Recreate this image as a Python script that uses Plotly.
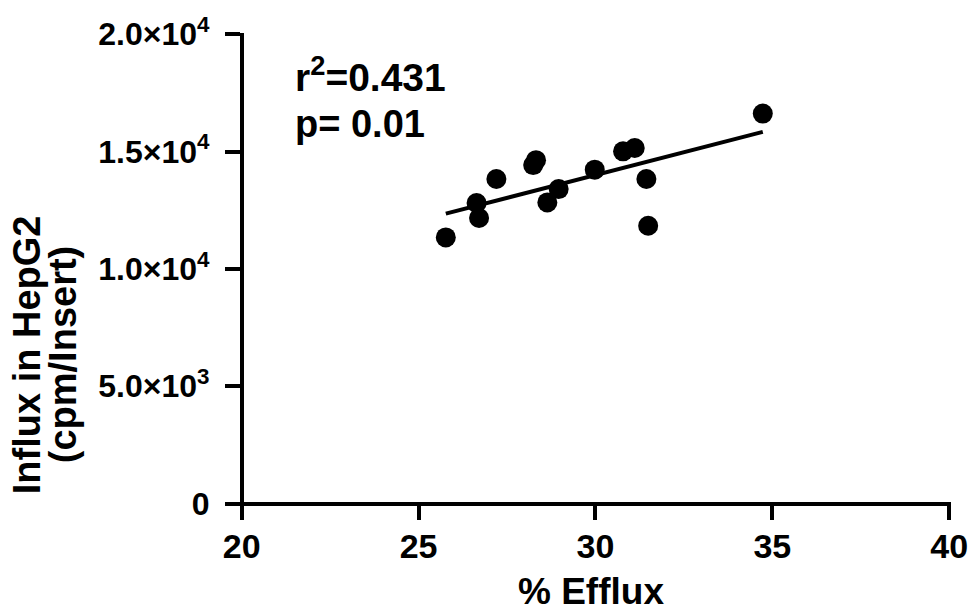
import numpy as np
import plotly.graph_objects as go

# % efflux vs influx into HepG2 cells (cpm/insert)
efflux = [25.77, 26.64, 26.71, 27.20, 28.24, 28.32, 28.64, 28.96,
          29.98, 30.78, 31.11, 31.44, 31.49, 34.73]
influx = [11340, 12806, 12167, 13830, 14420, 14630, 12830, 13400,
          14226, 15007, 15150, 13830, 11838, 16616]

x_ticks = [20, 25, 30, 35, 40]
y_ticks = [0, 5000, 10000, 15000, 20000]
y_tick_text = ["0", "5.0×10<sup>3</sup>", "1.0×10<sup>4</sup>",
               "1.5×10<sup>4</sup>", "2.0×10<sup>4</sup>"]

r2_text = "r<sup>2</sup>=0.431"
p_text = "p= 0.01"

# linear regression over the observed x-range
slope, intercept = np.polyfit(efflux, influx, 1)
fit_x = np.array([min(efflux), max(efflux)])
fit_y = slope * fit_x + intercept

FONT = "Liberation Sans, Arial, sans-serif"
x_range = [19.585, 40.05]
y_range = [-660, 20050]


def bold(size):
    return dict(family=FONT, size=size, weight="bold", color="black")


fig = go.Figure()
fig.add_trace(go.Scatter(
    x=fit_x, y=fit_y, mode="lines",
    line=dict(color="black", width=4), showlegend=False,
))
fig.add_trace(go.Scatter(
    x=efflux, y=influx, mode="markers",
    marker=dict(color="black", size=20, line=dict(width=0)),
    showlegend=False,
))

# axes cross at (20, 0) and overhang slightly, Prism-style
x_pos = (0 - y_range[0]) / (y_range[1] - y_range[0])
y_pos = (20 - x_range[0]) / (x_range[1] - x_range[0])

axis_common = dict(
    showgrid=False, zeroline=False, automargin=False,
    showline=True, linecolor="black", linewidth=3.5,
    ticks="outside", ticklen=15, tickwidth=3.5, tickcolor="black",
)

fig.update_layout(
    width=970, height=615,
    margin=dict(l=227, r=19, t=33, b=96),
    paper_bgcolor="white", plot_bgcolor="white",
    font=dict(family=FONT, color="black"),
    xaxis=dict(
        range=x_range, anchor="free", position=x_pos,
        tickvals=x_ticks, ticktext=[str(v) for v in x_ticks],
        tickfont=bold(34), ticklabelstandoff=-3, **axis_common,
    ),
    yaxis=dict(
        range=y_range, anchor="free", position=y_pos,
        tickvals=y_ticks, ticktext=y_tick_text,
        tickfont=bold(32), ticklabelstandoff=9, **axis_common,
    ),
    annotations=[
        dict(text=r2_text, xref="x", yref="y", x=21.45, y=18270,
             xanchor="left", yanchor="middle", showarrow=False,
             font=bold(39)),
        dict(text=p_text, xref="x", yref="y", x=21.45, y=16190,
             xanchor="left", yanchor="middle", showarrow=False,
             font=bold(38)),
        dict(text="% Efflux", xref="paper", yref="paper", x=0.5028, y=-0.1955,
             xanchor="center", yanchor="bottom", showarrow=False,
             font=bold(37)),
        dict(text="Influx in HepG2", xref="paper", yref="paper",
             x=-0.2762, y=0.337, xanchor="center", yanchor="middle",
             textangle=-90, showarrow=False, font=bold(38)),
        dict(text="(cpm/Insert)", xref="paper", yref="paper",
             x=-0.2265, y=0.337, xanchor="center", yanchor="middle",
             textangle=-90, showarrow=False, font=bold(38)),
    ],
)

fig.write_html("out.html")
